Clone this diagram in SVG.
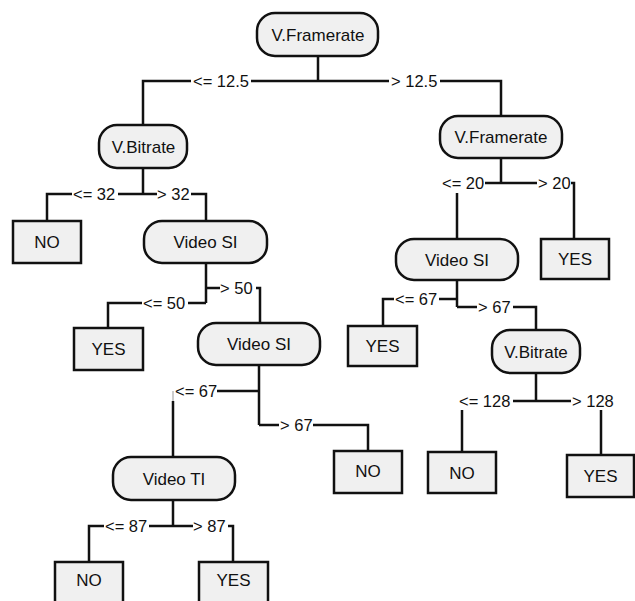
<svg xmlns="http://www.w3.org/2000/svg" width="635" height="601" viewBox="0 0 635 601">
<style>
.n rect{fill:#f0f0f0;stroke:#111;stroke-width:2.5}
.n text{font-family:"Liberation Sans",Arial,sans-serif;font-size:17px;fill:#111;text-anchor:middle}
.c path{fill:none;stroke:#111;stroke-width:2.5}
.c text{font-family:"Liberation Sans",Arial,sans-serif;font-size:16.5px;fill:#111}
</style>
<rect width="635" height="601" fill="#fff"/>
<g class="c" id="connectors">
<path d="M318,56V81M318,81H251M191,81H143V125M318,81H389M440,81H501V116"/>
<text x="193" y="87">&lt;= 12.5</text><text x="391" y="87">&gt; 12.5</text>
<path d="M143,168V194H118M72,194H47V221M143,194H157M191,194H206V221"/>
<text x="73" y="200">&lt;= 32</text><text x="157" y="200">&gt; 32</text>
<path d="M206,263V303M206,288H220M256,288H260V323M206,303H188M142,303H108V328"/>
<text x="143" y="309">&lt;= 50</text><text x="220" y="294">&gt; 50</text>
<path d="M259,365V425M259,391H217M173,401V457M259,425H279M313,425H368V451"/>
<path d="M173,391V401" style="stroke:#999;stroke-width:1"/>
<text x="175" y="397">&lt;= 67</text><text x="280" y="431">&gt; 67</text>
<path d="M173,500V526H149M104,526H89V562M173,526H193M228,526H233V562"/>
<text x="105" y="532">&lt;= 87</text><text x="193" y="532">&gt; 87</text>
<path d="M501,158V183H485M457,193V239M501,183H537M571,183H574V239"/>
<text x="442" y="189">&lt;= 20</text><text x="538" y="189">&gt; 20</text>
<path d="M457,280V307M457,299H439M394,299H383V326M457,307H477M513,307H536V330"/>
<text x="395" y="305">&lt;= 67</text><text x="478" y="313">&gt; 67</text>
<path d="M536,373V401H513M462,410V452M536,401H571M601,410V455"/>
<text x="459" y="407">&lt;= 128</text><text x="572" y="407">&gt; 128</text>
</g>
<g class="n" id="root"><rect x="257" y="13" width="121" height="43" rx="18"/><text x="318" y="40.5">V.Framerate</text></g>
<g class="n" id="vb1"><rect x="99" y="125" width="88" height="43" rx="18"/><text x="143.5" y="152.5">V.Bitrate</text></g>
<g class="n" id="vf2"><rect x="440" y="116" width="122" height="42" rx="18"/><text x="501" y="143">V.Framerate</text></g>
<g class="n" id="no1"><rect x="13" y="221" width="68" height="42"/><text x="47" y="248">NO</text></g>
<g class="n" id="vsi1"><rect x="144" y="221" width="123" height="42" rx="18"/><text x="205.5" y="248">Video SI</text></g>
<g class="n" id="yes1"><rect x="74" y="328" width="69" height="42"/><text x="108.5" y="355">YES</text></g>
<g class="n" id="vsi2"><rect x="198" y="323" width="122" height="42" rx="18"/><text x="259" y="350">Video SI</text></g>
<g class="n" id="vti"><rect x="113" y="457" width="122" height="43" rx="18"/><text x="174" y="484.5">Video TI</text></g>
<g class="n" id="no2"><rect x="55" y="562" width="68" height="50"/><text x="89" y="586">NO</text></g>
<g class="n" id="yes2"><rect x="199" y="562" width="69" height="50"/><text x="233.5" y="586">YES</text></g>
<g class="n" id="no3"><rect x="334" y="451" width="68" height="42"/><text x="368" y="477">NO</text></g>
<g class="n" id="vsi3"><rect x="396" y="239" width="122" height="41" rx="18"/><text x="457" y="265.5">Video SI</text></g>
<g class="n" id="yes3"><rect x="541" y="239" width="68" height="40"/><text x="575" y="265">YES</text></g>
<g class="n" id="yes4"><rect x="348" y="326" width="69" height="40"/><text x="382.5" y="352">YES</text></g>
<g class="n" id="vb2"><rect x="492" y="330" width="88" height="43" rx="18"/><text x="536" y="357.5">V.Bitrate</text></g>
<g class="n" id="no4"><rect x="428" y="452" width="68" height="41"/><text x="462" y="478.5">NO</text></g>
<g class="n" id="yes5"><rect x="567" y="455" width="67" height="42"/><text x="600.5" y="481.5">YES</text></g>
</svg>
